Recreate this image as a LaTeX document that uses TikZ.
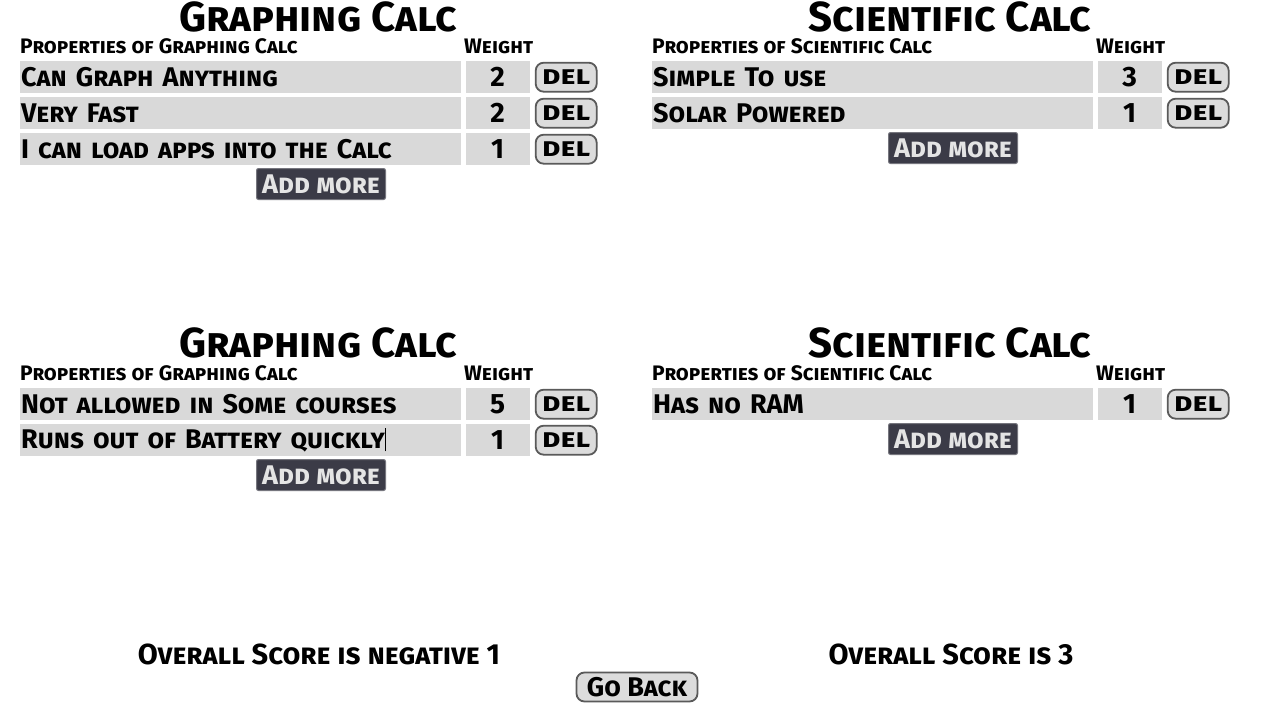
\documentclass[tikz,border=0pt]{standalone}
\usepackage{fontspec}
\setmainfont{Fira Sans}[Letters=SmallCaps, BoldFeatures={Letters=SmallCaps}]
\newfontfamily\widefont{Fira Sans}[Letters=SmallCaps, FakeStretch=1.2, BoldFeatures={Letters=SmallCaps, FakeStretch=1.2}]
\usepackage{tikz}
\usetikzlibrary{positioning}
\definecolor{uirow}{RGB}{217,217,217}
\definecolor{uibtn}{RGB}{220,220,220}
\definecolor{uiedge}{RGB}{90,90,90}
\definecolor{uidark}{RGB}{59,59,71}
\definecolor{uidarktxt}{RGB}{228,228,228}
\tikzstyle{title} = [font=\fontsize{42}{42}\selectfont\bfseries, inner sep=0pt, text depth=0pt, anchor=base]
\tikzstyle{header} = [font=\fontsize{21}{21}\selectfont\bfseries, inner sep=0pt, anchor=base west]
\tikzstyle{propcell} = [rectangle, fill=uirow, anchor=north west, minimum height=32pt, text width=439pt, inner xsep=1pt, inner ysep=0pt, align=left, font=\fontsize{27}{27}\selectfont\bfseries]
\tikzstyle{weightcell} = [rectangle, fill=uirow, minimum height=32pt, minimum width=64pt, inner sep=0pt, font=\fontsize{28}{28}\selectfont\bfseries]
\tikzstyle{delbtn} = [rectangle, rounded corners=8pt, draw=uiedge, line width=1.8pt, fill=uibtn, minimum height=29pt, minimum width=61pt, inner sep=0pt, font=\widefont\fontsize{26}{26}\selectfont\bfseries]
\tikzstyle{addbtn} = [rectangle, rounded corners=2pt, draw=uidark!70, line width=1pt, fill=uidark, text=uidarktxt, minimum height=31pt, minimum width=129pt, inner sep=0pt, font=\fontsize{27}{27}\selectfont\bfseries]
\tikzstyle{score} = [font=\fontsize{29}{29}\selectfont\bfseries, inner sep=0pt]

\begin{document}
\begin{tikzpicture}[x=1pt, y=-1pt]
\useasboundingbox[fill=white] (0,0) rectangle (1272,718);

% Graphing calc, first list
\node (gtitle) [title] at (318,31) {Graphing Calc};
\node (ghead) [header] at (20,53) {Properties of Graphing Calc};
\node (gweight) [header] at (464,53) {Weight};
\node (ga) [propcell] at (20,61) {Can Graph Anything};
\node (gaw) [weightcell, right=4pt of ga] {2};
\node (gad) [delbtn, right=5pt of gaw] {del};
\node (gb) [propcell] at (20,97) {Very Fast};
\node (gbw) [weightcell, right=4pt of gb] {2};
\node (gbd) [delbtn, right=5pt of gbw] {del};
\node (gc) [propcell] at (20,133) {I can load apps into the Calc};
\node (gcw) [weightcell, right=4pt of gc] {1};
\node (gcd) [delbtn, right=5pt of gcw] {del};
\node (gadd) [addbtn] at (321,184) {Add more};

% Scientific calc, first list
\node (stitle) [title] at (950,31) {Scientific Calc};
\node (shead) [header] at (652,53) {Properties of Scientific Calc};
\node (sweight) [header] at (1096,53) {Weight};
\node (sa) [propcell] at (652,61) {Simple To use};
\node (saw) [weightcell, right=4pt of sa] {3};
\node (sad) [delbtn, right=5pt of saw] {del};
\node (sb) [propcell] at (652,97) {Solar Powered};
\node (sbw) [weightcell, right=4pt of sb] {1};
\node (sbd) [delbtn, right=5pt of sbw] {del};
\node (sadd) [addbtn] at (953,148) {Add more};

% Graphing calc, second list
\node (gntitle) [title] at (318,357) {Graphing Calc};
\node (gnhead) [header] at (20,380) {Properties of Graphing Calc};
\node (gnweight) [header] at (464,380) {Weight};
\node (gna) [propcell] at (20,388) {Not allowed in Some courses};
\node (gnaw) [weightcell, right=4pt of gna] {5};
\node (gnad) [delbtn, right=5pt of gnaw] {del};
\node (gnb) [propcell] at (20,424) {Runs out of Battery quickly\rule[-3pt]{1.2pt}{23pt}};
\node (gnbw) [weightcell, right=4pt of gnb] {1};
\node (gnbd) [delbtn, right=5pt of gnbw] {del};
\node (gnadd) [addbtn] at (321,475) {Add more};

% Scientific calc, second list
\node (sntitle) [title] at (950,357) {Scientific Calc};
\node (snhead) [header] at (652,380) {Properties of Scientific Calc};
\node (snweight) [header] at (1096,380) {Weight};
\node (sna) [propcell] at (652,388) {Has no RAM};
\node (snaw) [weightcell, right=4pt of sna] {1};
\node (snad) [delbtn, right=5pt of snaw] {del};
\node (snadd) [addbtn] at (953,439) {Add more};

% Scores
\node (gscore) [score] at (319,654) {Overall Score is negative 1};
\node (sscore) [score] at (951,654) {Overall Score is 3};
\node (back) [delbtn, minimum width=121pt, font=\fontsize{27}{27}\selectfont\bfseries] at (637,687) {Go Back};
\end{tikzpicture}
\end{document}
